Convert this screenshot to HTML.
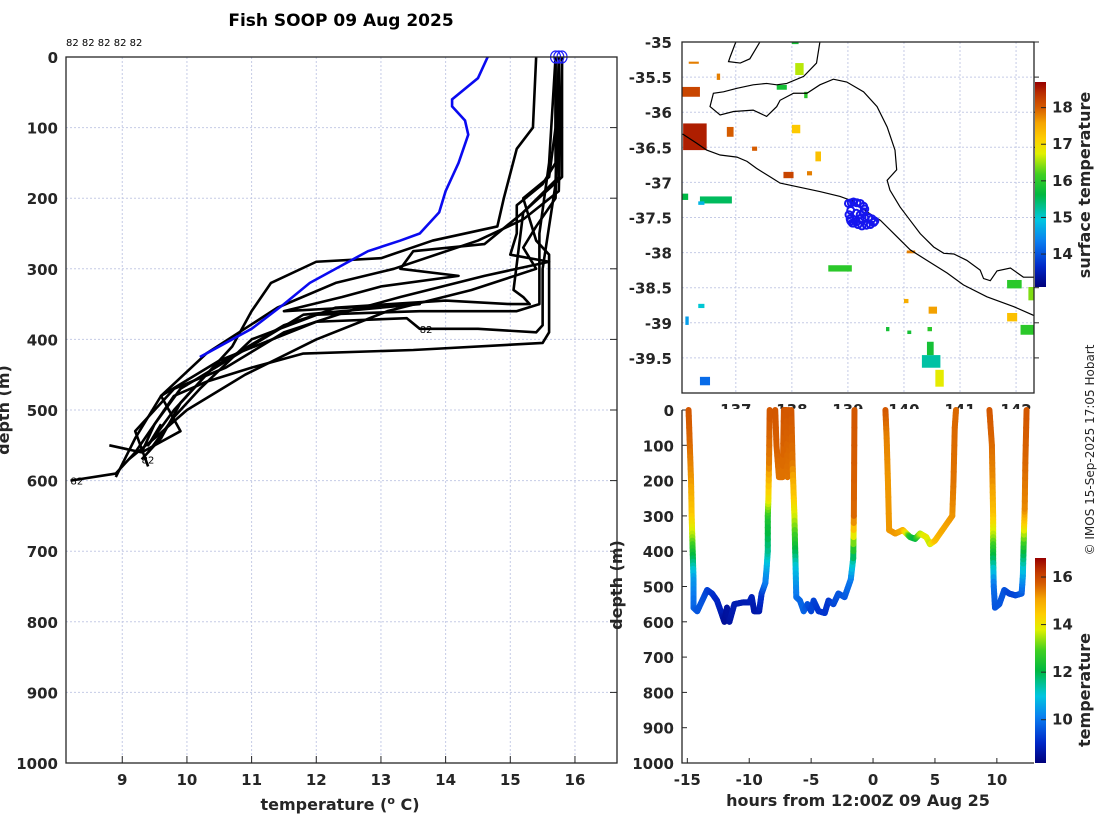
<!DOCTYPE html>
<html><head><meta charset="utf-8"><style>
body{margin:0;background:#fff;}
svg{display:block;font-family:"DejaVu Sans","Liberation Sans",sans-serif;}
.tk{font-weight:bold;font-size:15px;fill:#262626;}
.lb{font-weight:bold;font-size:16px;fill:#262626;}
.grid{stroke:#c5cbe6;stroke-width:1;stroke-dasharray:2,2;}
</style></head><body>
<svg id="fig" width="1100" height="820" viewBox="0 0 1100 820">
<rect width="1100" height="820" fill="#fff"/>
<text x="341" y="26" text-anchor="middle" style="font-weight:bold;font-size:17px">Fish SOOP 09 Aug 2025</text>
<text x="66" y="46" style="font-size:10px">82 82 82 82 82</text>
<g id="left"></g>
<g id="map"></g>
<g id="bot"></g>
<text transform="translate(1094,450) rotate(-90)" text-anchor="middle" style="font-size:12px" fill="#262626">© IMOS 15-Sep-2025 17:05 Hobart</text>
</svg>
<script>
// ---------- Left panel data ----------
const tempTicks=[9,10,11,12,13,14,15,16];
const depthTicks=[0,100,200,300,400,500,600,700,800,900,1000];
const blueProfileT=[14.65,14.5,14.1,14.1,14.3,14.35,14.2,14.1,14.0,13.9,13.6,13.3,12.8,12.4,11.9,11.5,11.0,10.2];
const blueProfileD=[0,30,60,70,90,110,150,170,190,220,250,260,275,295,320,350,385,425];
const profilesT=[
[15.7,15.7,15.6,15.2,15.4,15.6,15.6,15.5,13.5,11.8,11.0,10.3,9.8,9.5,9.2,8.9,8.2],
[15.4,15.35,15.1,14.9,14.8,13.8,13.0,12.0,11.3,11.0,10.7,10.3,9.9,9.6,9.3],
[15.8,15.8,15.2,14.6,13.5,13.3,14.2,13.0,12.4,11.5,12.5,13.6,11.8,10.8,9.9,9.5,9.3],
[15.7,15.7,15.5,15.1,15.1,15.0,15.6,14.6,13.3,12.5,11.5,10.6,9.8,9.2,9.4],
[15.75,15.7,15.4,15.2,15.4,14.4,13.1,12.0,10.9,10.0,9.5,9.1],
[15.75,15.75,15.2,15.05,15.2,15.3,15.0,14.0,12.3,11.0,10.2,9.8,9.4],
[15.75,15.7,15.6,15.5,15.5,15.4,14.5,13.6,13.4,12.0,10.5,9.6,9.2,8.9],
[15.7,15.6,15.45,15.45,15.1,13.6,12.0,11.5,10.4,9.8,9.4,9.6],
[15.8,15.75,15.2,14.5,13.2,12.3,11.4,10.3,9.6,9.9,9.3,8.8]
];
const profilesD=[
[0,100,170,200,260,280,390,405,415,420,440,460,480,520,560,590,600],
[0,100,130,200,240,260,285,290,320,360,410,450,490,540,570],
[0,170,220,265,275,300,310,325,340,360,355,350,365,420,470,520,560],
[0,150,180,210,250,280,290,310,340,360,390,440,470,530,580],
[0,200,240,270,300,330,360,400,450,500,540,570],
[0,170,220,330,340,350,350,345,355,400,470,510,560],
[0,180,240,300,380,390,385,385,370,375,430,480,540,595],
[0,150,250,350,360,360,365,380,440,500,550,520],
[0,190,230,260,300,320,355,420,480,530,560,550]
];
const surfaceCirclesT=[15.7,15.75,15.8];
const idLabelT=[13.6,9.3,8.2];
const idLabelD=[385,570,600];

// ---------- Map data ----------
const latTicks=[-35,-35.5,-36,-36.5,-37,-37.5,-38,-38.5,-39,-39.5];
const lonTicks=[137,138,139,140,141,142];
const coastSouthLon=[136.05,136.30,136.48,136.72,137.02,137.20,137.37,137.61,137.79,138.03,138.50,138.86,139.10,139.34,139.58,139.87,140.11,140.41,140.77,141.06,141.48,141.96,142.33];
const coastSouthLat=[-36.31,-36.44,-36.54,-36.61,-36.64,-36.70,-36.80,-36.92,-37.01,-37.05,-37.13,-37.20,-37.27,-37.42,-37.54,-37.77,-37.96,-38.11,-38.29,-38.46,-38.63,-38.77,-38.90];
const coastInnerLon=[138.50,138.44,138.21,137.91,137.73,137.55,137.31,137.02,136.78,136.60,136.54,136.72,136.96,137.31,137.55,137.73,137.79,138.03,138.27,138.50,138.74,138.98,139.28,139.52,139.70,139.84,139.87,139.70,139.75,139.93,140.11,140.29,140.53,140.71,140.89,141.12,141.36,141.42,141.54,141.66,141.90,142.13,142.33];
const coastInnerLat=[-35.00,-35.30,-35.49,-35.59,-35.61,-35.59,-35.61,-35.66,-35.71,-35.73,-35.92,-36.04,-35.99,-35.97,-36.06,-35.92,-35.83,-35.73,-35.73,-35.61,-35.53,-35.57,-35.71,-35.92,-36.21,-36.54,-36.82,-36.97,-37.11,-37.35,-37.54,-37.73,-37.92,-38.01,-38.02,-38.11,-38.25,-38.37,-38.40,-38.26,-38.22,-38.35,-38.35];
const coastNorthLon=[137.00,136.90,136.87,137.08,137.25,137.43];
const coastNorthLat=[-35.00,-35.21,-35.28,-35.30,-35.24,-35.00];
// SST patches: lon0, lon1, lat0, lat1, temperature
const sstLon0=[136.16,136.04,136.06,136.66,136.84,137.29,137.85,138.27,138.00,138.42,138.06,137.73,138.22,136.04,136.36,136.33,136.33,136.10,136.36,138.65,140.05,140.00,140.44,139.68,140.06,140.42,140.32,140.41,140.56,141.84,142.22,141.84,142.08,138.00];
const sstLon1=[136.34,136.36,136.48,136.72,136.96,137.38,138.03,138.36,138.15,138.52,138.21,137.91,138.28,136.15,136.93,136.44,136.44,136.16,136.54,139.07,140.20,140.08,140.59,139.74,140.13,140.50,140.65,140.53,140.71,142.10,142.33,142.02,142.33,138.12];
const sstLat0=[-35.28,-35.64,-36.16,-35.45,-36.21,-36.49,-36.85,-36.84,-36.18,-36.56,-35.30,-35.61,-35.71,-37.16,-37.20,-37.27,-38.73,-38.91,-39.77,-38.18,-37.97,-38.66,-38.77,-39.06,-39.11,-39.06,-39.46,-39.27,-39.67,-38.39,-38.49,-38.86,-39.03,-35.00];
const sstLat1=[-35.31,-35.78,-36.54,-35.54,-36.35,-36.55,-36.94,-36.90,-36.30,-36.70,-35.47,-35.68,-35.80,-37.25,-37.30,-37.32,-38.79,-39.03,-39.89,-38.27,-38.01,-38.72,-38.87,-39.12,-39.16,-39.12,-39.64,-39.46,-39.91,-38.51,-38.68,-38.98,-39.17,-35.03];
const sstTemp=[17.8,18.2,18.5,17.8,18.0,18.0,18.2,17.8,17.2,17.3,16.6,15.8,16.0,15.6,15.5,14.8,15.0,14.6,14.2,16.0,17.8,17.5,17.6,15.8,15.8,16.0,15.2,15.8,16.8,16.0,16.4,17.3,16.0,15.8];
const trackLon=[139.01,139.06,139.10,139.16,139.22,139.28,139.30,139.28,139.22,139.15,139.05,139.02,139.04,139.10,139.18,139.25,139.33,139.40,139.46,139.48,139.43,139.37,139.30,139.22,139.15,139.08,139.05];
const trackLat=[-37.30,-37.29,-37.28,-37.29,-37.30,-37.34,-37.38,-37.42,-37.46,-37.44,-37.40,-37.46,-37.52,-37.58,-37.60,-37.62,-37.61,-37.60,-37.57,-37.55,-37.52,-37.50,-37.50,-37.52,-37.56,-37.58,-37.55];
const sstCbTicks=[14,15,16,17,18];

// ---------- Depth-time data ----------
const hourTicks=[-15,-10,-5,0,5,10];
const segHours=[
[-14.9,-14.8,-14.7,-14.65,-14.6,-14.55,-14.5,-14.5,-14.2,-13.8,-13.4,-13.0,-12.6,-12.2,-12.0,-11.8,-11.6,-11.2,-10.5,-10.0,-9.8,-9.6,-9.2,-9.0,-8.7,-8.6,-8.5,-8.5,-8.45,-8.4,-8.35],
[-7.9,-7.8,-7.6,-7.3,-7.2,-7.0,-6.9,-6.75,-6.8],
[-6.6,-6.5,-6.4,-6.35,-6.3,-6.25,-6.2,-5.9,-5.6,-5.3,-5.0,-4.8,-4.4,-3.9,-3.6,-3.2,-2.8,-2.3,-1.8,-1.6,-1.55,-1.5],
[1.0,1.1,1.2,1.3,1.8,2.4,2.7,3.0,3.4,3.8,4.3,4.6,5.0,5.6,6.4,6.5,6.6,6.7],
[9.4,9.6,9.65,9.7,9.7,9.7,9.75,9.85,10.2,10.6,11.0,11.5,12.0,12.1,12.15,12.2,12.25,12.3,12.4]
];
const segDepths=[
[0,100,200,300,360,420,480,560,570,540,510,520,540,580,600,560,600,550,545,545,530,570,570,520,490,450,400,300,250,150,0],
[0,100,190,190,0,0,190,100,0],
[0,150,250,300,380,450,530,540,570,550,570,540,570,575,540,550,520,530,480,420,300,0],
[0,80,200,340,350,340,350,360,365,350,360,380,370,340,300,200,50,0],
[0,100,200,300,360,420,500,560,550,510,520,525,520,470,400,330,280,150,0]
];
const segTemps=[
[15.8,15.6,15.2,14.5,13.5,12.0,10.5,9.8,9.6,9.6,9.4,9.2,9.0,8.8,8.5,8.6,8.6,8.8,8.8,8.8,8.9,8.7,8.7,9.2,10.0,10.5,11.5,12.5,14.0,15.4,15.8],
[15.8,15.7,15.5,15.5,15.8,15.8,15.5,15.6,15.8],
[15.8,15.5,14.5,13.8,12.5,11.0,10.0,9.8,9.8,9.6,9.4,9.4,9.2,9.2,9.2,9.4,9.6,9.6,10.0,11.5,15.6,15.8],
[15.8,15.4,15.2,15.2,15.2,15.0,14.0,12.5,12.0,13.5,14.0,13.6,14.6,15.0,15.2,15.5,15.6,15.6],
[15.8,15.6,15.3,14.6,13.5,12.0,10.0,9.6,9.6,9.6,9.4,9.4,9.6,10.5,12.0,14.0,15.3,15.6,15.8]
];
const tempCbTicks=[10,12,14,16];

// ---------- helpers ----------
const NS='http://www.w3.org/2000/svg';
function mk(parent,tag,attrs,text){const e=document.createElementNS(NS,tag);for(const k in attrs)e.setAttribute(k,attrs[k]);if(text!==undefined)e.textContent=text;parent.appendChild(e);return e;}
const CMAP=[[0,[0,0,122]],[0.1,[0,40,200]],[0.22,[10,124,240]],[0.33,[0,200,224]],[0.45,[0,184,64]],[0.55,[64,208,32]],[0.65,[224,240,0]],[0.72,[255,208,0]],[0.8,[245,165,0]],[0.87,[215,95,0]],[0.94,[190,50,0]],[1,[150,0,0]]];
function cmapCol(t){t=Math.max(0,Math.min(1,t));for(let i=0;i<CMAP.length-1;i++){const [a,ca]=CMAP[i],[b,cb]=CMAP[i+1];if(t<=b){const f=(t-a)/(b-a);return `rgb(${ca.map((c,k)=>Math.round(c+(cb[k]-c)*f)).join(',')})`;}}return 'rgb(150,0,0)';}
function jet(v,lo,hi){return cmapCol((v-lo)/(hi-lo));}

// ---------- Left panel ----------
const L=document.getElementById('left');
const lx0=66,lx1=617,ly0=57,ly1=763,tMin=8.13,tMax=16.65;
const xT=t=>lx0+(t-tMin)/(tMax-tMin)*(lx1-lx0);
const yD=d=>ly0+d/1000*(ly1-ly0);
tempTicks.forEach(t=>{
 const g=mk(L,'line',{x1:xT(t),x2:xT(t),y1:ly0,y2:ly1,class:'grid'});
 
 
 const tk=mk(L,'line',{x1:xT(t),x2:xT(t),y1:ly1,y2:ly1-7,stroke:'#262626'});
 
 
 const tl=mk(L,'text',{x:xT(t),y:ly1+22,'text-anchor':'middle',class:'tk'},t);
 
 
});
depthTicks.forEach(d=>{
 const g=mk(L,'line',{x1:lx0,x2:lx1,y1:yD(d),y2:yD(d),class:'grid'});
 
 
 const tk=mk(L,'line',{x1:lx1,x2:lx1-7,y1:yD(d),y2:yD(d),stroke:'#262626'});
 
 
 const tl=mk(L,'text',{x:lx0-8,y:yD(d)+6,'text-anchor':'end',class:'tk'},d);
 
 
});
profilesT.forEach((arr,i)=>{
 const pts=arr.map((t,j)=>xT(t)+','+yD(profilesD[i][j])).join(' ');
 const p=mk(L,'polyline',{points:pts,fill:'none',stroke:'#000','stroke-width':2.6,'stroke-linejoin':'round'});
 
 
});
{const pts=blueProfileT.map((t,j)=>xT(t)+','+yD(blueProfileD[j])).join(' ');
 const p=mk(L,'polyline',{points:pts,fill:'none',stroke:'#0a0af0','stroke-width':2.6});
 
 }
surfaceCirclesT.forEach(t=>{
 const c=mk(L,'ellipse',{cx:xT(t),cy:yD(0),rx:5,ry:6,fill:'none',stroke:'#2020ff','stroke-width':1.2});
 
 
});
idLabelT.forEach((t,i)=>{
 const e=mk(L,'text',{x:xT(t),y:yD(idLabelD[i])+4,style:'font-size:10px'},'82');
 
 
});
{const b=mk(L,'rect',{x:lx0,y:ly0,width:lx1-lx0,height:ly1-ly0,fill:'none',stroke:'#262626','stroke-width':1.3});
 
 
 const xl=mk(L,'text',{x:340,y:810,'text-anchor':'middle',class:'lb'},'temperature (');
 
 
 mk(xl,'tspan',{dy:-6,style:'font-size:11px'},'o');
 mk(xl,'tspan',{dy:6},' C)');
 const yl=mk(L,'text',{transform:'translate(9,410) rotate(-90)','text-anchor':'middle',class:'lb'},'depth (m)');
 
 }

// ---------- Map ----------
const M=document.getElementById('map');
const mx0=682,mx1=1034,my0=42,my1=393,lonMin=136.04,lonMax=142.32,latMax=-35,latMin=-40;
const xL=l=>mx0+(l-lonMin)/(lonMax-lonMin)*(mx1-mx0);
const yL=l=>my0+(latMax-l)/(latMax-latMin)*(my1-my0);
mk(M,'defs',{}).innerHTML='<clipPath id="mclip"><rect x="682" y="42" width="352" height="351"/></clipPath>';
const MC=mk(M,'g',{'clip-path':'url(#mclip)'});
lonTicks.forEach(l=>{
 const g=mk(MC,'line',{x1:xL(l),x2:xL(l),y1:my0,y2:my1,class:'grid'});
 
 
 const tl=mk(M,'text',{x:xL(l),y:415,'text-anchor':'middle',class:'tk'},l);
 
 
});
latTicks.forEach(l=>{
 const g=mk(MC,'line',{x1:mx0,x2:mx1,y1:yL(l),y2:yL(l),class:'grid'});
 
 
 const tk=mk(M,'line',{x1:mx1,x2:mx1+5,y1:yL(l),y2:yL(l),stroke:'#262626'});
 
 
 const tl=mk(M,'text',{x:mx0-10,y:yL(l)+6,'text-anchor':'end',class:'tk'},l);
 
 
});
sstTemp.forEach((t,i)=>{
 const r=mk(MC,'rect',{x:xL(sstLon0[i]),y:yL(sstLat0[i]),width:Math.max(2,xL(sstLon1[i])-xL(sstLon0[i])),height:Math.max(2,yL(sstLat1[i])-yL(sstLat0[i])),fill:jet(t,13.1,18.7)});
 
 
});
[[coastSouthLon,coastSouthLat,'coastline-south'],[coastInnerLon,coastInnerLat,'coastline-gulf'],[coastNorthLon,coastNorthLat,'coastline-north']].forEach(([lo,la,n])=>{
 const p=mk(MC,'polyline',{points:lo.map((v,i)=>xL(v)+','+yL(la[i])).join(' '),fill:'none',stroke:'#000','stroke-width':1.2});
 
 
});
trackLon.forEach((l,i)=>{
 const c=mk(MC,'circle',{cx:xL(l),cy:yL(trackLat[i]),r:3.5,fill:'none',stroke:'#1515ee','stroke-width':2});
 
 
});
{const b=mk(M,'rect',{x:mx0,y:my0,width:mx1-mx0,height:my1-my0,fill:'none',stroke:'#262626','stroke-width':1.3});
 
 }
// map colorbar
const cb1y0=82,cb1y1=287,cb1Lo=13.1,cb1Hi=18.7;
const yC1=v=>cb1y1-(v-cb1Lo)/(cb1Hi-cb1Lo)*(cb1y1-cb1y0);
{const gr=mk(M,'defs',{});
 let s='<linearGradient id="jet1" x1="0" y1="1" x2="0" y2="0">';
 for(let i=0;i<=40;i++)s+=`<stop offset="${i/40}" stop-color="${cmapCol(i/40)}"/>`;
 gr.innerHTML=s+'</linearGradient>';
 const r=mk(M,'rect',{x:1035,y:cb1y0,width:11,height:cb1y1-cb1y0,fill:'url(#jet1)'});
 
 
 sstCbTicks.forEach(v=>{
  mk(M,'line',{x1:1041,x2:1046,y1:yC1(v),y2:yC1(v),stroke:'#262626'});
  const t=mk(M,'text',{x:1052,y:yC1(v)+5,class:'tk'},v);
  
  
 });
 const lab=mk(M,'text',{transform:'translate(1090,185) rotate(-90)','text-anchor':'middle',class:'lb'},'surface temperature');
 
 }

// ---------- Depth-time panel ----------
const B=document.getElementById('bot');
const bx0=682,bx1=1034,by0=410,by1=763,hMin=-15.43,hMax=13.0;
const xH=h=>bx0+(h-hMin)/(hMax-hMin)*(bx1-bx0);
const yB=d=>by0+d/1000*(by1-by0);
{const bg=mk(B,'rect',{x:bx0,y:by0-1,width:bx1-bx0,height:by1-by0+1,fill:'#fff'});
 
 }
depthTicks.forEach(d=>{
 const tl=mk(B,'text',{x:bx0-8,y:yB(d)+6,'text-anchor':'end',class:'tk'},d);
 
 
 mk(B,'line',{x1:bx0,x2:bx0+5,y1:yB(d),y2:yB(d),stroke:'#262626'});
});
hourTicks.forEach(h=>{
 mk(B,'line',{x1:xH(h),x2:xH(h),y1:by1,y2:by1-5,stroke:'#262626'});
 const tl=mk(B,'text',{x:xH(h),y:by1+22,'text-anchor':'middle',class:'tk'},h);
 
 
});
segHours.forEach((hs,i)=>{
 const g=mk(B,'g',{});
 
 
 for(let j=0;j<hs.length-1;j++){
  const steps=6;
  for(let k=0;k<steps;k++){
   const f0=k/steps,f1=(k+1)/steps;
   const h0=hs[j]+(hs[j+1]-hs[j])*f0,h1=hs[j]+(hs[j+1]-hs[j])*f1;
   const d0=segDepths[i][j]+(segDepths[i][j+1]-segDepths[i][j])*f0,d1=segDepths[i][j]+(segDepths[i][j+1]-segDepths[i][j])*f1;
   const tv=segTemps[i][j]+(segTemps[i][j+1]-segTemps[i][j])*(f0+f1)/2;
   mk(g,'line',{x1:xH(h0),y1:yB(d0),x2:xH(h1),y2:yB(d1),stroke:jet(tv,8.18,16.8),'stroke-width':6,'stroke-linecap':'round'});
  }
 }
});
{const b=mk(B,'polyline',{points:`${bx0},${by0} ${bx0},${by1} ${bx1},${by1}`,fill:'none',stroke:'#262626','stroke-width':1.3});
 
 
 const xl=mk(B,'text',{x:858,y:806,'text-anchor':'middle',class:'lb'},'hours from 12:00Z 09 Aug 25');
 
 
 const yl=mk(B,'text',{transform:'translate(622,585) rotate(-90)','text-anchor':'middle',class:'lb'},'depth (m)');
 
 }
const cb2y0=558,cb2y1=763,cb2Lo=8.18,cb2Hi=16.8;
const yC2=v=>cb2y1-(v-cb2Lo)/(cb2Hi-cb2Lo)*(cb2y1-cb2y0);
{const r=mk(B,'rect',{x:1035,y:cb2y0,width:11,height:cb2y1-cb2y0,fill:'url(#jet1)'});
 
 
 tempCbTicks.forEach(v=>{
  mk(B,'line',{x1:1041,x2:1046,y1:yC2(v),y2:yC2(v),stroke:'#262626'});
  const t=mk(B,'text',{x:1052,y:yC2(v)+5,class:'tk'},v);
  
  
 });
 const lab=mk(B,'text',{transform:'translate(1090,690) rotate(-90)','text-anchor':'middle',class:'lb'},'temperature');
 
 }
</script>
</body></html>
